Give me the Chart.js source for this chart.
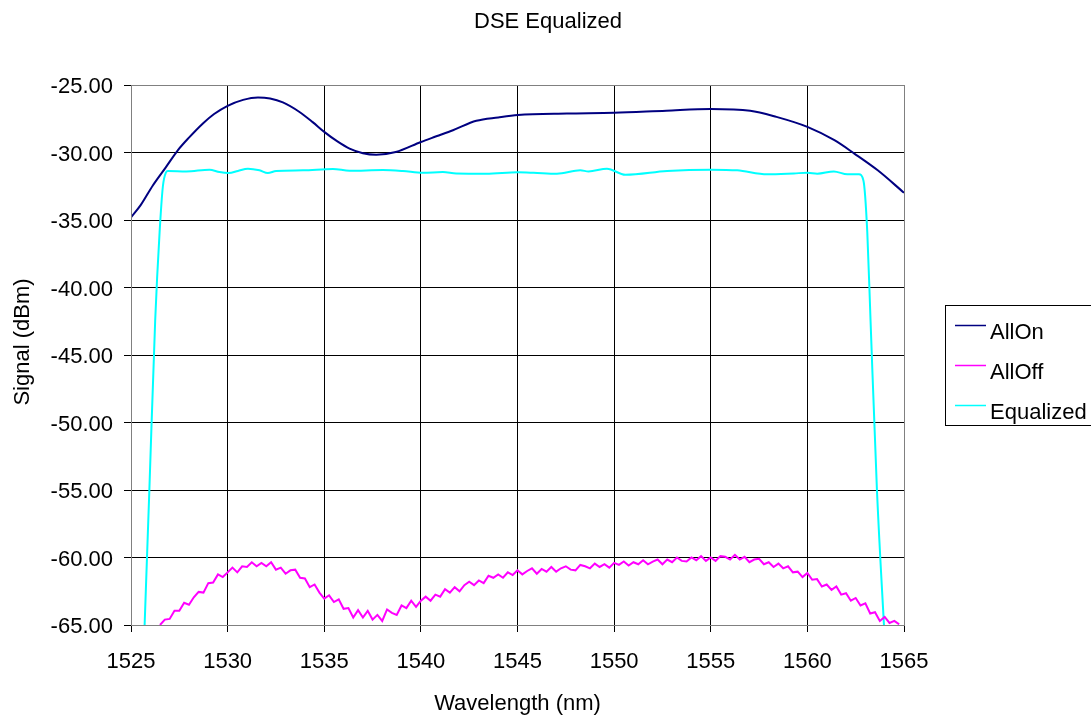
<!DOCTYPE html>
<html>
<head>
<meta charset="utf-8">
<script src="https://cdn.jsdelivr.net/npm/chart.js@4"></script>
<style>
html,body{margin:0;padding:0;background:#fff;}
#wrap{width:1091px;height:719px;position:relative;}
</style>
</head>
<body>
<div id="wrap"><canvas id="c" width="1091" height="719"></canvas></div>
<script>
// ---- data ----
const chartTitle = "DSE Equalized";
const xTitle = "Wavelength (nm)";
const yTitle = "Signal (dBm)";
const seriesNames = ["AllOn", "AllOff", "Equalized"];
const xTickMin = 1525, xTickMax = 1565, xTickStep = 5;
const yTickMin = -65, yTickMax = -25, yTickStep = 5;

const allOnWl = [1525.0,1525.5,1526.13,1526.8,1527.42,1528.0,1528.72,1529.3,1530.0,1530.8,1531.57,1532.2,1532.86,1533.7,1534.4,1535.0,1535.7,1536.31,1537.0,1537.69,1538.7,1540.0,1540.8,1541.66,1542.87,1544.0,1545.02,1547.56,1550.0,1552.7,1555.0,1557.04,1558.4,1560.0,1561.4,1562.43,1563.64,1565.0];
const allOnDbm = [-34.8,-33.9,-32.44,-31.1,-29.84,-28.9,-27.85,-27.15,-26.54,-26.1,-25.92,-26.0,-26.29,-26.98,-27.75,-28.47,-29.2,-29.71,-30.05,-30.16,-29.96,-29.22,-28.8,-28.35,-27.65,-27.4,-27.22,-27.11,-27.06,-26.9,-26.78,-26.9,-27.36,-28.1,-29.09,-30.08,-31.32,-32.98];

const allOffStart = 1526.5, allOffStep = 0.25;
const allOffDbm = [
-65.0,-64.6,-64.55,-63.95,-63.95,-63.35,-63.5,-62.95,-62.55,-62.6,
-61.9,-61.85,-61.25,-61.45,-61.1,-60.75,-61.1,-60.65,-60.7,-60.35,
-60.65,-60.4,-60.65,-60.35,-60.9,-60.75,-61.2,-60.95,-60.9,-61.5,
-61.55,-62.2,-62.0,-62.6,-63.05,-62.8,-63.3,-63.1,-63.8,-63.75,
-64.45,-63.9,-64.45,-63.95,-64.6,-64.25,-64.7,-63.85,-64.1,-64.25,
-63.55,-63.75,-63.2,-63.65,-63.2,-62.9,-63.2,-62.75,-62.9,-62.35,
-62.6,-62.2,-62.5,-62.05,-61.8,-62.05,-61.7,-61.9,-61.35,-61.5,
-61.25,-61.5,-61.1,-61.3,-60.95,-61.25,-61.0,-60.8,-61.2,-60.85,
-61.05,-60.7,-61.05,-60.8,-60.65,-60.9,-60.95,-60.55,-60.65,-60.8,
-60.45,-60.7,-60.5,-60.75,-60.4,-60.55,-60.3,-60.6,-60.35,-60.5,
-60.2,-60.5,-60.3,-60.15,-60.5,-60.15,-60.35,-60.0,-60.25,-60.3,
-60.0,-60.2,-59.9,-60.25,-60.0,-60.25,-59.9,-59.95,-60.15,-59.8,
-60.15,-59.95,-60.35,-60.15,-60.1,-60.5,-60.35,-60.7,-60.45,-60.8,
-60.65,-61.1,-61.05,-61.45,-61.15,-61.65,-61.6,-62.15,-62.0,-62.4,
-62.15,-62.75,-62.65,-63.2,-63.0,-63.55,-63.4,-64.15,-64.05,-64.7,
-64.4,-64.85,-64.7,-64.95
];

const eqWl = [1525.68,1525.95,1526.25,1526.48,1526.65,1526.8,1526.91,1527.86,1529.06,1529.58,1530.06,1530.53,1531.05,1531.65,1532.08,1532.51,1533.9,1535.45,1536.31,1538.03,1539.07,1540.1,1541.14,1541.83,1543.38,1545.02,1545.83,1547.04,1548.25,1548.68,1549.63,1550.58,1552.74,1555.0,1556.37,1557.92,1559.3,1560.0,1560.51,1561.37,1562.07,1562.67,1562.9,1563.1,1563.27,1563.6,1564.0];
const eqDbm = [-66,-55,-42.5,-35.9,-32.5,-31.5,-31.37,-31.4,-31.27,-31.45,-31.52,-31.37,-31.2,-31.32,-31.52,-31.37,-31.32,-31.22,-31.35,-31.3,-31.37,-31.5,-31.45,-31.55,-31.57,-31.47,-31.5,-31.57,-31.32,-31.4,-31.2,-31.65,-31.37,-31.27,-31.32,-31.62,-31.55,-31.5,-31.57,-31.4,-31.62,-31.62,-32.07,-35.9,-42.5,-55,-66];

const seriesColors = ["#000080", "#FF00FF", "#00FFFF"];

// ---- build ----
function pairs(xs, ys){ return ys.map((y,i)=>({x:xs[i], y:y})); }
const allOffWl = allOffDbm.map((_,i)=> +(allOffStart + i*allOffStep).toFixed(2));

const FONT = "'Liberation Sans', Arial, sans-serif";

const decor = {
  id: 'decor',
  afterDraw(chart){
    const ctx = chart.ctx, ca = chart.chartArea;
    ctx.save();
    // frame
    ctx.strokeStyle = '#808080';
    ctx.lineWidth = 1;
    ctx.strokeRect(Math.round(ca.left)+0.5, Math.round(ca.top)+0.5, Math.round(ca.right-ca.left), Math.round(ca.bottom-ca.top));
    // title
    ctx.fillStyle = '#000';
    ctx.font = '22px ' + FONT;
    ctx.textAlign = 'center';
    ctx.textBaseline = 'alphabetic';
    ctx.fillText(chartTitle, 548, 28);
    // y title
    ctx.save();
    ctx.translate(29, 342);
    ctx.rotate(-Math.PI/2);
    ctx.textAlign = 'center';
    ctx.fillText(yTitle, 0, 0);
    ctx.restore();
    // legend
    ctx.strokeStyle = '#000';
    ctx.lineWidth = 1;
    ctx.strokeRect(945.5, 305.5, 160, 120);
    ctx.textAlign = 'left';
    seriesNames.forEach((n,i)=>{
      const y = 325 + i*40;
      ctx.strokeStyle = seriesColors[i];
      ctx.lineWidth = 1.5;
      ctx.beginPath(); ctx.moveTo(955, y+0.5); ctx.lineTo(986, y+0.5); ctx.stroke();
      ctx.fillStyle = '#000';
      ctx.fillText(n, 990, y + 14);
    });
    ctx.restore();
  }
};

new Chart(document.getElementById('c'), {
  type: 'line',
  data: {
    datasets: [
      { label: seriesNames[0], data: pairs(allOnWl, allOnDbm), borderColor: seriesColors[0], borderWidth: 2, pointRadius: 0, cubicInterpolationMode: 'monotone', fill: false },
      { label: seriesNames[1], data: pairs(allOffWl, allOffDbm), borderColor: seriesColors[1], borderWidth: 2, pointRadius: 0, tension: 0, fill: false },
      { label: seriesNames[2], data: pairs(eqWl, eqDbm), borderColor: seriesColors[2], borderWidth: 2, pointRadius: 0, cubicInterpolationMode: 'monotone', fill: false }
    ]
  },
  options: {
    responsive: false,
    animation: false,
    layout: { padding: { top: 85, right: 187, bottom: 0, left: 0 } },
    plugins: { legend: { display: false }, title: { display: false }, tooltip: { enabled: false } },
    scales: {
      x: {
        type: 'linear', min: xTickMin, max: xTickMax,
        afterFit(s){ s.height = 94; },
        ticks: { stepSize: xTickStep, color: '#000', font: { family: FONT, size: 22 }, padding: 17, maxRotation: 0, callback: v => String(v) },
        grid: { color: '#000', lineWidth: 1, tickLength: 7 },
        border: { color: '#808080' },
        title: { display: true, text: xTitle, color: '#000', font: { family: FONT, size: 22 }, padding: { top: 0, bottom: 2 } }
      },
      y: {
        type: 'linear', min: yTickMin, max: yTickMax,
        afterFit(s){ s.width = 131; },
        ticks: { stepSize: yTickStep, color: '#000', font: { family: FONT, size: 22 }, padding: 11, labelOffset: 2, callback: v => v.toFixed(2) },
        grid: { color: '#000', lineWidth: 1, tickLength: 7 },
        border: { color: '#808080' }
      }
    }
  },
  plugins: [decor]
});
</script>
</body>
</html>
